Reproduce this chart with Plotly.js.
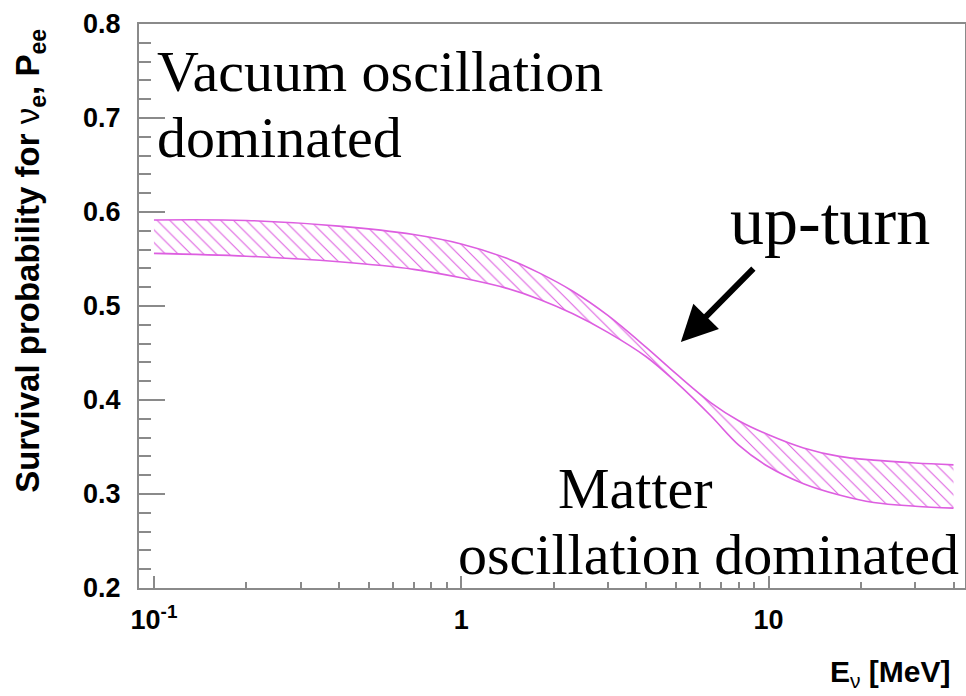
<!DOCTYPE html>
<html>
<head>
<meta charset="utf-8">
<script src="https://cdn.plot.ly/plotly-3.0.1.min.js"></script>
<style>html,body{margin:0;padding:0;background:#fff;}#chart{width:966px;height:696px;}</style>
</head>
<body>
<div id="chart"></div>
<script>
// Neutrino energy (MeV)
const energy = [0.1, 0.2, 0.4, 0.7, 1.0, 1.4, 1.8, 2.3, 3.0, 4.0, 5.0, 6.5, 8.0, 10, 13, 17, 22, 30, 40];
// Upper edge of the survival-probability band
const peeUpper = [0.5915, 0.591, 0.585, 0.576, 0.566, 0.551, 0.535, 0.516, 0.490, 0.456, 0.428, 0.397, 0.378, 0.363, 0.349, 0.340, 0.336, 0.333, 0.331];
// Lower edge of the survival-probability band
const peeLower = [0.556, 0.553, 0.547, 0.539, 0.530, 0.519, 0.507, 0.492, 0.472, 0.446, 0.419, 0.383, 0.352, 0.329, 0.311, 0.299, 0.291, 0.287, 0.285];

const xMajorTicks = [0.1, 1, 10];
const xMajorLabels = ['10<sup>-1</sup>', '1', '10'];
const xMinorTicks = [0.2, 0.3, 0.4, 0.5, 0.6, 0.7, 0.8, 0.9, 2, 3, 4, 5, 6, 7, 8, 9, 20, 30, 40];

const bandColor = '#dd5ee0';
const axisColor = '#8a8a8a';

const traces = [
  {
    x: energy, y: peeUpper, type: 'scatter', mode: 'lines',
    line: {color: bandColor, width: 1.6, shape: 'spline', smoothing: 1},
    hoverinfo: 'skip', showlegend: false
  },
  {
    x: energy, y: peeLower, type: 'scatter', mode: 'lines',
    line: {color: bandColor, width: 1.6, shape: 'spline', smoothing: 1},
    fill: 'tonexty', fillcolor: 'rgba(255,255,255,0)',
    fillpattern: {shape: '\\', fgcolor: bandColor, bgcolor: 'rgba(255,255,255,0)', size: 9, solidity: 0.12},
    hoverinfo: 'skip', showlegend: false
  }
];

const serif = 'Liberation Serif, Times New Roman, serif';
const sans = 'Liberation Sans, Arial, Helvetica, sans-serif';

const layout = {
  width: 966, height: 696,
  margin: {l: 139, r: 1, t: 24, b: 108},
  paper_bgcolor: '#fff', plot_bgcolor: '#fff',
  showlegend: false,
  xaxis: {
    type: 'log',
    range: [-1.0487, 1.6395],
    showgrid: false, zeroline: false,
    showline: true, linecolor: axisColor, linewidth: 2, mirror: true,
    ticks: 'inside', ticklen: 12, tickwidth: 2, tickcolor: axisColor,
    tickmode: 'array', tickvals: xMajorTicks, ticktext: xMajorLabels,
    ticklabelstandoff: 7,
    tickfont: {family: sans, size: 27, color: '#000', weight: 'bold'},
    minor: {tickmode: 'array', tickvals: xMinorTicks, ticks: 'inside', ticklen: 6, tickwidth: 2, tickcolor: axisColor, showgrid: false}
  },
  yaxis: {
    range: [0.2, 0.8],
    showgrid: false, zeroline: false,
    showline: true, linecolor: axisColor, linewidth: 2, mirror: true,
    ticks: 'inside', ticklen: 26, tickwidth: 2, tickcolor: axisColor,
    tick0: 0.2, dtick: 0.1, tickformat: '.1f',
    ticklabelstandoff: 11,
    tickfont: {family: sans, size: 27, color: '#000', weight: 'bold'},
    minor: {dtick: 0.02, ticks: 'inside', ticklen: 12, tickwidth: 2, tickcolor: axisColor, showgrid: false}
  },
  annotations: [
    {xref: 'paper', yref: 'paper', x: -0.132, y: 0.58, xanchor: 'center', yanchor: 'middle',
     textangle: -90, showarrow: false,
     text: 'Survival probability for <span style="font-weight:normal">ν</span><sub>e</sub>, P<sub>ee</sub>',
     font: {family: sans, size: 33, color: '#000', weight: 'bold'}},
    {xref: 'paper', yref: 'paper', x: 0.9855, y: -0.152, xanchor: 'right', yanchor: 'middle', showarrow: false,
     text: 'E<sub><span style="font-weight:normal">ν</span></sub> [MeV]',
     font: {family: sans, size: 30, color: '#000', weight: 'bold'}},
    {xref: 'paper', yref: 'paper', x: 0.0195, y: 0.915, xanchor: 'left', yanchor: 'middle', showarrow: false,
     text: 'Vacuum oscillation', font: {family: serif, size: 58, color: '#000'}},
    {xref: 'paper', yref: 'paper', x: 0.0195, y: 0.798, xanchor: 'left', yanchor: 'middle', showarrow: false,
     text: 'dominated', font: {family: serif, size: 58, color: '#000'}},
    {xref: 'paper', yref: 'paper', x: 0.713, y: 0.651, xanchor: 'left', yanchor: 'middle', showarrow: false,
     text: 'up-turn', font: {family: serif, size: 68, color: '#000'}},
    {xref: 'paper', yref: 'paper', x: 0.6005, y: 0.177, xanchor: 'center', yanchor: 'middle', showarrow: false,
     text: 'Matter', font: {family: serif, size: 58, color: '#000'}},
    {xref: 'paper', yref: 'paper', x: 0.6895, y: 0.060, xanchor: 'center', yanchor: 'middle', showarrow: false,
     text: 'oscillation dominated', font: {family: serif, size: 58, color: '#000'}},
    {xref: 'paper', yref: 'paper', x: 0.656, y: 0.436, text: '', showarrow: true,
     ax: 74, ay: -75, arrowhead: 2, arrowsize: 1.2, arrowwidth: 6, arrowcolor: '#000', standoff: 0}
  ]
};

Plotly.newPlot('chart', traces, layout, {displayModeBar: false, staticPlot: true});
</script>
</body>
</html>
